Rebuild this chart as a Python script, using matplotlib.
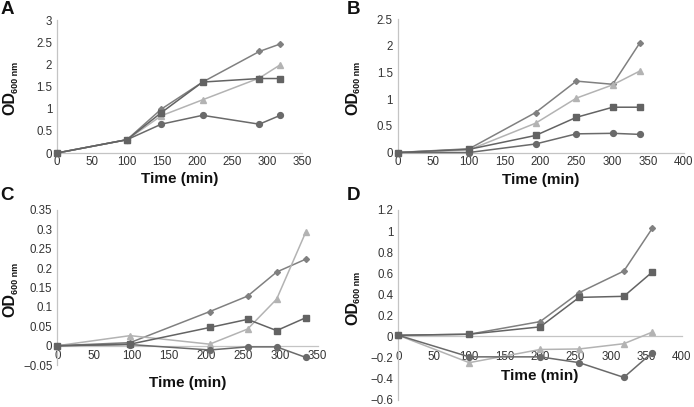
import matplotlib
matplotlib.use("Agg")
import matplotlib.pyplot as plt
from matplotlib.ticker import FixedLocator, FixedFormatter

plt.rcParams['font.family'] = ['Liberation Sans', 'DejaVu Sans']

# ---------------- data ----------------
A_time = [0, 100, 149, 208, 289, 319]
A_diamond = [0, 0.30, 0.99, 1.60, 2.29, 2.46]
A_square = [0, 0.30, 0.91, 1.60, 1.68, 1.68]
A_triangle = [0, 0.30, 0.84, 1.20, 1.69, 1.99]
A_circle = [0, 0.30, 0.65, 0.85, 0.65, 0.85]

B_time = [0, 100, 193, 250, 301, 339]
B_diamond = [0, 0.07, 0.75, 1.34, 1.28, 2.06]
B_square = [0, 0.06, 0.32, 0.66, 0.85, 0.85]
B_triangle = [0, 0.05, 0.55, 1.02, 1.27, 1.53]
B_circle = [0, 0.0, 0.16, 0.35, 0.36, 0.34]

C_time = [0, 98, 205, 256, 295, 334]
C_diamond = [0, 0.008, 0.088, 0.128, 0.19, 0.223]
C_square = [0, 0.004, 0.047, 0.068, 0.039, 0.072]
C_triangle = [0, 0.026, 0.004, 0.043, 0.12, 0.292]
C_circle = [0, 0.003, -0.011, -0.003, -0.003, -0.03]

D_time = [0, 100, 200, 255, 318, 358]
D_diamond = [0.01, 0.02, 0.14, 0.415, 0.62, 1.025]
D_square = [0.01, 0.02, 0.09, 0.37, 0.38, 0.61]
D_triangle = [0.01, -0.25, -0.125, -0.12, -0.07, 0.04]
D_circle = [0.01, -0.195, -0.195, -0.25, -0.39, -0.155]

A_xticks = [0, 50, 100, 150, 200, 250, 300, 350]
A_yticks = [0, 0.5, 1, 1.5, 2, 2.5, 3]
A_yticklabels = ['0', '0.5', '1', '1.5', '2', '2.5', '3']
B_xticks = [0, 50, 100, 150, 200, 250, 300, 350, 400]
B_yticks = [0, 0.5, 1, 1.5, 2, 2.5]
B_yticklabels = ['0', '0.5', '1', '1.5', '2', '2.5']
C_xticks = [0, 50, 100, 150, 200, 250, 300, 350]
C_yticks = [-0.05, 0, 0.05, 0.1, 0.15, 0.2, 0.25, 0.3, 0.35]
C_yticklabels = ['\u22120.05', '0', '0.05', '0.1', '0.15', '0.2', '0.25', '0.3', '0.35']
D_xticks = [0, 50, 100, 150, 200, 250, 300, 350, 400]
D_yticks = [-0.6, -0.4, -0.2, 0, 0.2, 0.4, 0.6, 0.8, 1.0, 1.2]
D_yticklabels = ['\u22120.6', '\u22120.4', '\u22120.2', '0', '0.2', '0.4', '0.6', '0.8', '1', '1.2']

panel_letters = ['A', 'B', 'C', 'D']
xlabel = 'Time (min)'
ylabel_main = 'OD'
ylabel_sub = '600 nm'

# ---------------- styling ----------------
W, H = 694, 407
fig = plt.figure(figsize=(W / 100, H / 100), dpi=100)

def px_axes(l, r, top, bot):
    return fig.add_axes([l / W, 1 - bot / H, (r - l) / W, (bot - top) / H])

series_style = [
    ('diamond', dict(color='#808080', marker='D', ms=3.0)),
    ('triangle', dict(color='#b3b3b3', marker='^', ms=4.0)),
    ('circle', dict(color='#6a6a6a', marker='o', ms=4.2)),
    ('square', dict(color='#636363', marker='s', ms=4.0)),
]

def draw(ax, t, series, xlim, ylim, xticks, yticks, yticklabels, xpad):
    for name, st in series_style:
        ax.plot(t, series[name], lw=1.1, color=st['color'], marker=st['marker'],
                ms=st['ms'], mec=st['color'], mfc=st['color'], clip_on=False, zorder=3)
    ax.set_xlim(*xlim)
    ax.set_ylim(*ylim)
    for s in ['top', 'right']:
        ax.spines[s].set_visible(False)
    ax.spines['left'].set_color('#c4c4c4')
    ax.spines['bottom'].set_color('#c4c4c4')
    ax.spines['left'].set_linewidth(0.9)
    ax.spines['bottom'].set_linewidth(0.9)
    ax.spines['bottom'].set_position(('data', 0))
    ax.xaxis.set_major_locator(FixedLocator(xticks))
    ax.xaxis.set_major_formatter(FixedFormatter([str(v) for v in xticks]))
    ax.yaxis.set_major_locator(FixedLocator(yticks))
    ax.yaxis.set_major_formatter(FixedFormatter(yticklabels))
    ax.tick_params(axis='both', length=0, labelsize=8.3, labelcolor='#333333')
    ax.tick_params(axis='y', pad=3.5)
    ax.tick_params(axis='x', pad=xpad)
    ax.patch.set_alpha(0)

axA = px_axes(57, 302, 20, 153)
draw(axA, A_time, dict(diamond=A_diamond, square=A_square, triangle=A_triangle, circle=A_circle),
     (0, 350), (0, 3), A_xticks, A_yticks, A_yticklabels, 2.5)
axB = px_axes(397.7, 683.5, 19.3, 152.5)
draw(axB, B_time, dict(diamond=B_diamond, square=B_square, triangle=B_triangle, circle=B_circle),
     (0, 400), (0, 2.5), B_xticks, B_yticks, B_yticklabels, 2.5)
axC = px_axes(57.3, 317.5, 210, 365.1)
draw(axC, C_time, dict(diamond=C_diamond, square=C_square, triangle=C_triangle, circle=C_circle),
     (0, 350), (-0.05, 0.35), C_xticks, C_yticks, C_yticklabels, 3.0)
axD = px_axes(398.3, 682, 210, 399.5)
draw(axD, D_time, dict(diamond=D_diamond, square=D_square, triangle=D_triangle, circle=D_circle),
     (0, 400), (-0.6, 1.2), D_xticks, D_yticks, D_yticklabels, 10.5)

def ftext(x, y, s, **kw):
    fig.text(x / W, 1 - y / H, s, **kw)

# x labels
for (x, y) in [(179.5, 179), (540.6, 180), (187.4, 383), (540, 376)]:
    ftext(x, y, xlabel, ha='center', va='center', fontsize=11, fontweight='bold', color='#111111')
# y labels: bold "OD" with small subscript
for (x, y_main, y_sub) in [(10, 103, 77), (353, 103, 77), (10, 305, 278), (353, 313, 287)]:
    ftext(x, y_main, ylabel_main, ha='center', va='center', rotation=90, fontsize=11.5,
          fontweight='bold', color='#111111')
    ftext(x + 5, y_sub, ylabel_sub, ha='center', va='center', rotation=90, fontsize=6.5,
          fontweight='bold', color='#111111')
# panel letters
for (x, y), s in zip([(7, 9), (353, 9), (7, 195), (353, 195)], panel_letters):
    ftext(x, y, s, ha='center', va='center', fontsize=13.5, fontweight='bold', color='#111111')

fig.savefig('out.png', dpi=100)
